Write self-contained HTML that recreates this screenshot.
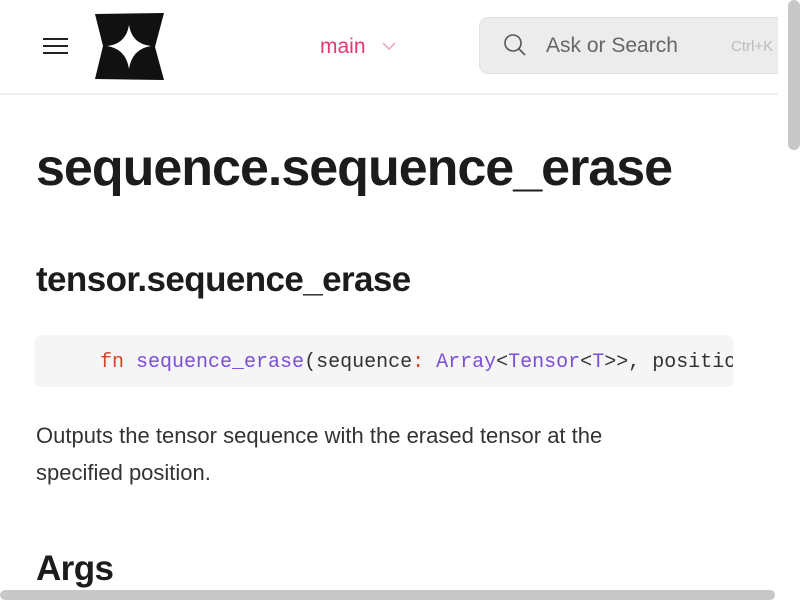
<!DOCTYPE html>
<html><head><style>
body{margin:0;width:800px;height:600px;overflow:hidden;background:#fff;font-family:"Liberation Sans",sans-serif;position:relative;color:#1c1c1c}
.abs{position:absolute}
</style></head><body>
<div class="abs" style="left:0;top:93px;width:778px;height:2px;background:#f0f0f0"></div>
<div class="abs" style="left:43px;top:38px;width:25px;height:2px;background:#222"></div>
<div class="abs" style="left:43px;top:45px;width:25px;height:2px;background:#222"></div>
<div class="abs" style="left:43px;top:52px;width:25px;height:2px;background:#222"></div>
<svg class="abs" style="left:93px;top:12px" width="72" height="70" viewBox="0 0 72 70">
<path d="M2,2 L71,1 L62,35 L71,68 L2,67 L10,34 Z" fill="#111"/>
<path d="M36,13 Q39,32 58,34 Q39,37 36,57 Q33,37 14,34 Q33,32 36,13 Z" fill="#fff"/>
</svg>
<div class="abs" style="left:320px;top:35px;font-size:21px;color:#e6366e">main</div>
<svg class="abs" style="left:382px;top:42px" width="14" height="9"><path d="M1,1 L7,7 L13,1" stroke="#f08aa8" stroke-width="1.2" fill="none"/></svg>
<div class="abs" style="left:479px;top:17px;width:330px;height:57px;background:#ececec;border:1px solid #e2e2e2;border-radius:9px;box-sizing:border-box"></div>
<svg class="abs" style="left:503px;top:33px" width="24" height="24"><circle cx="10" cy="10" r="8" stroke="#555" stroke-width="1.6" fill="none"/><path d="M16,16 L22,22" stroke="#555" stroke-width="1.6"/></svg>
<div class="abs" style="left:546px;top:34px;font-size:21px;color:#666">Ask or Search</div>
<div class="abs" style="left:731px;top:38px;font-size:15px;color:#bbb">Ctrl+K</div>
<div class="abs" style="left:778px;top:0;width:22px;height:600px;background:#fff"></div>
<div class="abs" style="left:788px;top:0;width:12px;height:150px;background:#c8c8c8;border-radius:6px"></div>
<div class="abs" style="left:36px;top:138px;font-size:52px;font-weight:bold;letter-spacing:-1px">sequence.sequence_erase</div>
<div class="abs" style="left:36px;top:260px;font-size:35px;font-weight:bold;letter-spacing:-0.6px">tensor.sequence_erase</div>
<div class="abs" style="left:35px;top:335px;width:698px;height:52px;background:#f5f5f5;border-radius:6px;overflow:hidden">
<div style="position:absolute;left:65px;top:16px;font-family:'Liberation Mono',monospace;font-size:20px;white-space:nowrap;color:#333"><span style="color:#d2452c">fn</span> <span style="color:#7c4dd6">sequence_erase</span>(sequence<span style="color:#d2452c">:</span> <span style="color:#7c4dd6">Array</span>&lt;<span style="color:#7c4dd6">Tensor</span>&lt;<span style="color:#7c4dd6">T</span>&gt;&gt;, position</div></div>
<div class="abs" style="left:36px;top:417px;font-size:22px;line-height:37px;width:640px;color:#333">Outputs the tensor sequence with the erased tensor at the specified position.</div>
<div class="abs" style="left:36px;top:549px;font-size:35px;font-weight:bold;letter-spacing:-0.6px">Args</div>
<div class="abs" style="left:0;top:589px;width:800px;height:11px;background:#fff"></div>
<div class="abs" style="left:0;top:590px;width:775px;height:10px;background:#c8c8c8;border-radius:5px"></div>
</body></html>
